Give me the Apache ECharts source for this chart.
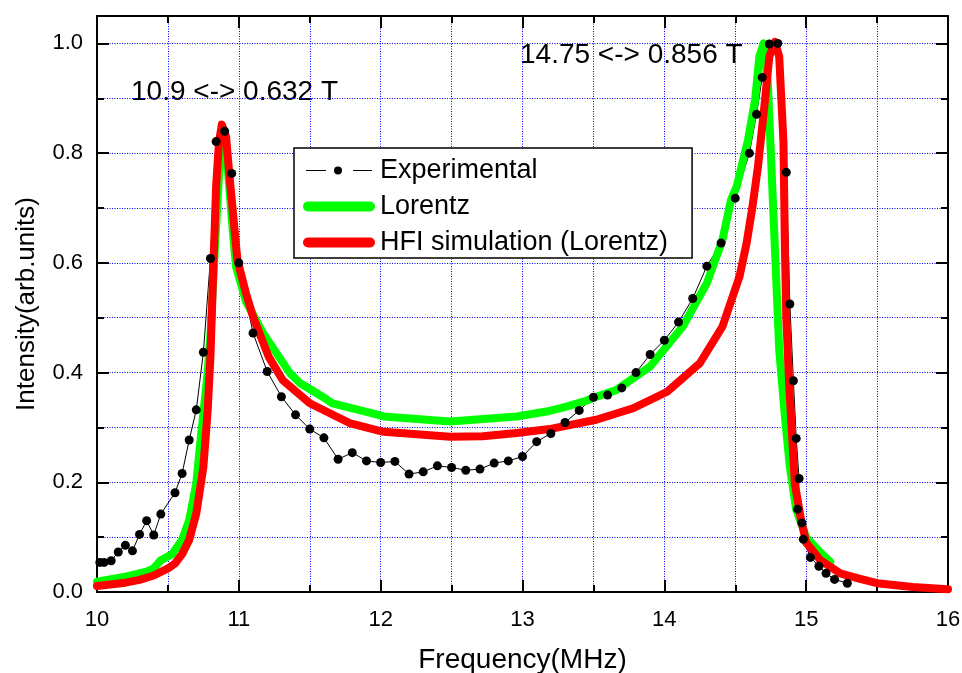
<!DOCTYPE html>
<html>
<head>
<meta charset="utf-8">
<script src="https://cdn.jsdelivr.net/npm/echarts@6/dist/echarts.min.js"></script>
<style>
  html, body { margin: 0; padding: 0; background: #fff; }
  #chart { width: 962px; height: 673px; }
</style>
</head>
<body>
<div id="chart"></div>
<script>
// experimental points
const expFreq = [10.02, 10.05, 10.10, 10.15, 10.20, 10.25, 10.30, 10.35, 10.40, 10.45,
  10.55, 10.60, 10.65, 10.70, 10.75, 10.80, 10.84, 10.90, 10.95, 11.00,
  11.10, 11.20, 11.30, 11.40, 11.50, 11.60, 11.70, 11.80, 11.90, 12.00,
  12.10, 12.20, 12.30, 12.40, 12.50, 12.60, 12.70, 12.80, 12.90, 13.00,
  13.10, 13.20, 13.30, 13.40, 13.50, 13.60, 13.70, 13.80, 13.90, 14.00,
  14.10, 14.20, 14.30, 14.40, 14.50, 14.60, 14.65, 14.69, 14.74, 14.80,
  14.86, 14.885, 14.91, 14.93, 14.95, 14.94, 14.97, 14.98, 15.03, 15.09,
  15.14, 15.20, 15.29]
const expIntensity = [0.054, 0.054, 0.057, 0.073, 0.085, 0.075, 0.105, 0.130, 0.104, 0.142,
  0.181, 0.216, 0.277, 0.332, 0.437, 0.608, 0.821, 0.840, 0.763, 0.600,
  0.472, 0.402, 0.356, 0.323, 0.297, 0.281, 0.242, 0.254, 0.239, 0.236,
  0.238, 0.215, 0.219, 0.230, 0.227, 0.222, 0.224, 0.235, 0.239, 0.247,
  0.274, 0.289, 0.309, 0.331, 0.355, 0.359, 0.372, 0.400, 0.433, 0.459,
  0.492, 0.535, 0.594, 0.636, 0.718, 0.800, 0.871, 0.938, 0.999, 1.000,
  0.765, 0.525, 0.385, 0.280, 0.207, 0.151, 0.126, 0.096, 0.063, 0.047,
  0.034, 0.023, 0.016]

// Lorentz fit
const lorentzFreq = [10.00, 10.20, 10.35, 10.40, 10.45, 10.53, 10.60, 10.65, 10.70, 10.735,
  10.76, 10.78, 10.80, 10.83, 10.86, 10.89, 10.92, 10.95, 10.98, 11.05,
  11.17, 11.36, 11.43, 11.59, 11.66, 11.95, 12.02, 12.49, 12.96, 13.19,
  13.31, 13.43, 13.52, 13.66, 13.90, 14.13, 14.30, 14.41, 14.47, 14.51,
  14.59, 14.64, 14.67, 14.70, 14.73, 14.77, 14.79, 14.81, 14.85, 14.885,
  14.93, 15.00, 15.10, 15.17]
const lorentzIntensity = [0.019, 0.028, 0.037, 0.043, 0.058, 0.069, 0.095, 0.131, 0.198, 0.289,
  0.350, 0.400, 0.470, 0.620, 0.760, 0.830, 0.780, 0.680, 0.593, 0.530,
  0.472, 0.399, 0.381, 0.356, 0.344, 0.325, 0.320, 0.311, 0.320, 0.330,
  0.338, 0.347, 0.356, 0.368, 0.411, 0.484, 0.563, 0.642, 0.715, 0.739,
  0.824, 0.897, 0.976, 1.000, 0.927, 0.684, 0.563, 0.441, 0.320, 0.228,
  0.150, 0.100, 0.072, 0.055]

// HFI simulation (Lorentz)
const hfiFreq = [10.00, 10.20, 10.30, 10.40, 10.50, 10.55, 10.60, 10.65, 10.70, 10.75,
  10.78, 10.80, 10.82, 10.84, 10.86, 10.88, 10.89, 10.91, 10.93, 10.95,
  10.99, 11.05, 11.10, 11.21, 11.31, 11.50, 11.78, 12.02, 12.49, 12.72,
  12.96, 13.19, 13.52, 13.78, 14.02, 14.25, 14.41, 14.53, 14.58, 14.62,
  14.66, 14.71, 14.74, 14.78, 14.81, 14.84, 14.85, 14.86, 14.88, 14.90,
  14.92, 14.96, 15.00, 15.10, 15.24, 15.38, 15.50, 15.75, 16.00]
const hfiIntensity = [0.011, 0.017, 0.022, 0.030, 0.043, 0.052, 0.069, 0.095, 0.143, 0.228,
  0.330, 0.430, 0.590, 0.740, 0.820, 0.852, 0.855, 0.830, 0.770, 0.715,
  0.605, 0.545, 0.502, 0.429, 0.386, 0.344, 0.308, 0.292, 0.283, 0.284,
  0.290, 0.297, 0.314, 0.335, 0.365, 0.417, 0.484, 0.575, 0.636, 0.700,
  0.775, 0.897, 0.976, 1.003, 0.976, 0.820, 0.630, 0.500, 0.380, 0.289,
  0.198, 0.137, 0.090, 0.058, 0.034, 0.024, 0.016, 0.009, 0.005]

const peakLabels = ['10.9 <-> 0.632 T', '14.75 <-> 0.856 T']

const FONT = 'Liberation Sans, Arial, sans-serif'
const pair = (xs, ys) => xs.map((x, i) => [x, ys[i]])

const gridLine = { show: true, lineStyle: { color: '#0000ff', width: 1, type: [1, 1.5] } }
const black = { color: '#000', width: 2 }

// legend icons: "— • —" for the points, thick round bar for the fits
const dotIcon = 'path://M0,0h0.01v0.01h-0.01z M72,10h-0.01v-0.01h0.01z M3,4.5h20v1h-20z M50,4.5h19v1h-19z M31,5a4,4 0 1,0 8,0a4,4 0 1,0 -8,0z'
const barIcon = 'path://M5,0h62a5,5 0 0,1 0,10h-62a5,5 0 0,1 0,-10z'

function xAxisOf(position, main) {
  return {
    type: 'value', position, min: 10, max: 16, interval: 1,
    name: main ? 'Frequency(MHz)' : '',
    nameLocation: 'middle', nameGap: 54,
    nameTextStyle: { fontSize: 28, color: '#000', fontFamily: FONT },
    axisLine: { show: true, onZero: false, lineStyle: black },
    axisTick: { show: true, inside: true, length: 12, lineStyle: black },
    minorTick: { show: true, splitNumber: 2, length: 7, lineStyle: black },
    axisLabel: { show: main, fontSize: 22, color: '#000', margin: 17, fontFamily: FONT },
    splitLine: main ? gridLine : { show: false },
    minorSplitLine: main ? gridLine : { show: false }
  }
}

function yAxisOf(position, major, main) {
  return {
    type: 'value', position, min: 0, max: 1.05, interval: major ? 0.2 : 0.1,
    name: main ? 'Intensity(arb.units)' : '',
    nameLocation: 'middle', nameGap: 57,
    nameTextStyle: { fontSize: 26, color: '#000', fontFamily: FONT },
    axisLine: { show: major, onZero: false, lineStyle: black },
    axisTick: { show: true, inside: true, length: major ? 12 : 7, lineStyle: black },
    axisLabel: {
      show: main, fontSize: 22, color: '#000', margin: 14, fontFamily: FONT,
      formatter: (v) => (v > 1.01 ? '' : v.toFixed(1))
    },
    splitLine: !major && position === 'left' ? gridLine : { show: false }
  }
}

const chart = echarts.init(document.getElementById('chart'))
const option = {
  animation: false,
  backgroundColor: '#fff',
  textStyle: { fontFamily: FONT },
  grid: { left: 97, right: 14, top: 16, bottom: 81, outerBoundsMode: 'none' },
  legend: {
    orient: 'vertical', left: 294, top: 148,
    backgroundColor: '#fff', borderColor: '#000', borderWidth: 1.5,
    padding: [9, 24, 2, 9], itemGap: 9, itemWidth: 72, itemHeight: 10,
    itemStyle: { borderWidth: 0 },
    data: [
      { name: 'Experimental', icon: dotIcon },
      { name: 'Lorentz', icon: barIcon },
      { name: 'HFI simulation (Lorentz)', icon: barIcon }
    ],
    textStyle: { fontSize: 27, color: '#000', fontFamily: FONT }
  },
  xAxis: [xAxisOf('bottom', true), xAxisOf('top', false)],
  yAxis: [yAxisOf('left', true, true), yAxisOf('left', false, false),
    yAxisOf('right', true, false), yAxisOf('right', false, false)],
  graphic: [
    { type: 'text', left: 131, top: 78, style: { text: peakLabels[0], font: '28px ' + FONT, fill: '#000' } },
    { type: 'text', left: 520, top: 41, style: { text: peakLabels[1], font: '28px ' + FONT, fill: '#000' } }
  ],
  series: [
    {
      name: 'Experimental', type: 'line', data: pair(expFreq, expIntensity),
      symbol: 'circle', symbolSize: 9, showSymbol: true,
      itemStyle: { color: '#000' }, lineStyle: { color: '#000', width: 1 }
    },
    {
      name: 'Lorentz', type: 'line', data: pair(lorentzFreq, lorentzIntensity),
      symbol: 'none', itemStyle: { color: '#00ff00' },
      lineStyle: { color: '#00ff00', width: 8, join: 'round', cap: 'round' }
    },
    {
      name: 'HFI simulation (Lorentz)', type: 'line', data: pair(hfiFreq, hfiIntensity),
      symbol: 'none', itemStyle: { color: '#ff0000' },
      lineStyle: { color: '#ff0000', width: 8, join: 'round', cap: 'round' }
    }
  ]
}
chart.setOption(option)
</script>
</body>
</html>
